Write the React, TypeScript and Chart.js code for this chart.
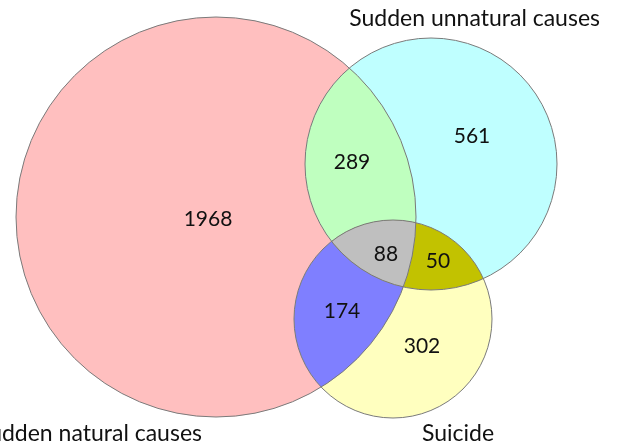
import React, { useEffect, useRef } from "react";
import { Chart, registerables } from "chart.js";

Chart.register(...registerables);

// Sets (names) and region counts
const setNames = ["Sudden natural causes", "Sudden unnatural causes", "Suicide"];
const regionLabels = ["natural only", "unnatural only", "suicide only", "natural∩unnatural", "natural∩suicide", "unnatural∩suicide", "all three"];
const regionCounts = [1968, 561, 302, 289, 174, 50, 88];

// Layout (in chart units, same as scale units)
const circleX = [216, 431, 393];
const circleY = [217, 164, 319];
const circleR = [200, 126, 99];
const countX = [208, 472, 422, 352, 342, 438, 386];
const countY = [219, 136, 346, 162, 311, 261, 254];
const nameX = [202, 600, 458];
const nameY = [441, 26, 441];
const nameAlign: CanvasTextAlign[] = ["right", "right", "center"];

const soloColors = ["#FFBFBF", "#BFFFFF", "#FFFFBF"];
const pairColors = { ab: "#BFFFBF", ac: "#7F7FFF", bc: "#C2C200" };
const tripleColor = "#BFBFBF";

const vennPlugin = {
  id: "venn",
  afterDatasetsDraw(chart: any) {
    const ctx: CanvasRenderingContext2D = chart.ctx;
    const xs = chart.scales.x;
    const ys = chart.scales.y;
    const px = (v: number) => xs.getPixelForValue(v);
    const py = (v: number) => ys.getPixelForValue(v);
    const pr = (r: number) => Math.abs(xs.getPixelForValue(r) - xs.getPixelForValue(0));
    const circ = (i: number) => {
      ctx.beginPath();
      ctx.arc(px(circleX[i]), py(circleY[i]), pr(circleR[i]), 0, Math.PI * 2);
    };
    const fillIn = (clips: number[], target: number, color: string) => {
      ctx.save();
      clips.forEach((c) => {
        circ(c);
        ctx.clip();
      });
      circ(target);
      ctx.fillStyle = color;
      ctx.fill();
      ctx.restore();
    };
    for (let i = 0; i < 3; i++) fillIn([], i, soloColors[i]);
    fillIn([0], 1, pairColors.ab);
    fillIn([0], 2, pairColors.ac);
    fillIn([1], 2, pairColors.bc);
    fillIn([0, 1], 2, tripleColor);
    ctx.save();
    ctx.strokeStyle = "#7a7a7a";
    ctx.lineWidth = 1;
    for (let i = 0; i < 3; i++) {
      circ(i);
      ctx.stroke();
    }
    ctx.fillStyle = "#111";
    ctx.font = "21px Lato";
    ctx.textAlign = "center";
    ctx.textBaseline = "middle";
    regionCounts.forEach((v, i) => {
      ctx.fillText(String(v), px(countX[i]), py(countY[i]));
    });
    ctx.font = "23px Lato";
    ctx.textBaseline = "alphabetic";
    setNames.forEach((n, i) => {
      ctx.textAlign = nameAlign[i];
      ctx.fillText(n, px(nameX[i]), py(nameY[i]));
    });
    ctx.restore();
  },
};

export default function App() {
  const ref = useRef<HTMLCanvasElement>(null);
  useEffect(() => {
    if (!ref.current) return;
    const chart = new Chart(ref.current, {
      type: "scatter",
      data: {
        datasets: [
          {
            label: "centers",
            data: circleX.map((x, i) => ({ x, y: circleY[i] })),
            pointRadius: 0,
            pointHoverRadius: 0,
          },
        ],
      },
      options: {
        responsive: false,
        animation: false,
        layout: { padding: 0 },
        plugins: { legend: { display: false }, tooltip: { enabled: false } },
        scales: {
          x: { type: "linear", min: 0, max: 617, display: false },
          y: { type: "linear", min: 0, max: 446, reverse: true, display: false },
        },
      },
      plugins: [vennPlugin],
    });
    return () => chart.destroy();
  }, []);
  return (
    <div style={{ position: "fixed", left: 0, top: 0, width: 617, height: 446, background: "#fff" }}>
      <canvas ref={ref} width={617} height={446} />
    </div>
  );
}
